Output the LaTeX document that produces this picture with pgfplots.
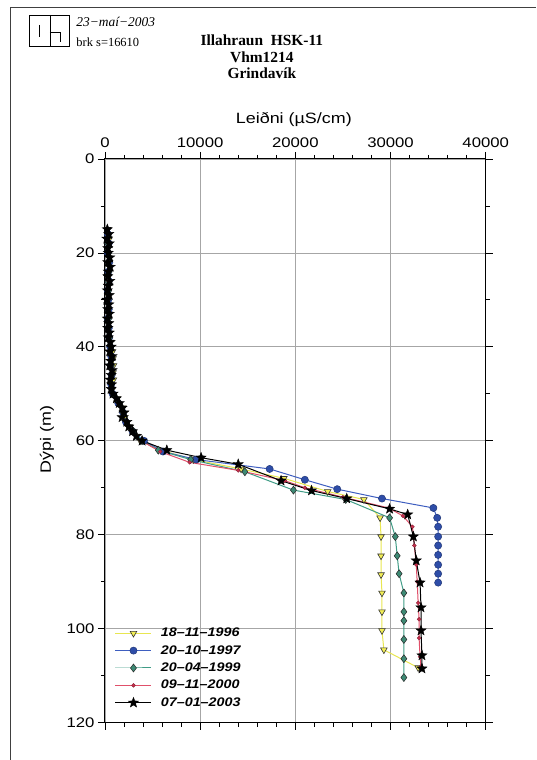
\documentclass[border=0pt]{standalone}
\usepackage{fontspec}
\setmainfont{Liberation Serif}
\setsansfont{Liberation Sans}
\newfontfamily\sfx{Liberation Sans}[FakeStretch=1.2]
\newfontfamily\sfl{Liberation Sans}[FakeStretch=1.15]
\usepackage{pgfplots}
\pgfplotsset{compat=1.18}
\usepackage{pgfplotstable}
\usetikzlibrary{plotmarks}

\definecolor{cyel}{HTML}{F2EE55}
\definecolor{cyelline}{HTML}{E8E650}
\definecolor{cblue}{HTML}{2E4DA8}
\definecolor{cblueline}{HTML}{3E5EC0}
\definecolor{cteal}{HTML}{3D8A74}
\definecolor{ctealline}{HTML}{3F9C86}
\definecolor{cred}{HTML}{C8304E}
\definecolor{credline}{HTML}{E0506A}

\newdimen\starin
\pgfdeclareplotmark{fstar}{%
  \starin=0.42\pgfplotmarksize
  \pgfpathmoveto{\pgfqpointpolar{90}{\pgfplotmarksize}}%
  \pgfpathlineto{\pgfqpointpolar{126}{\starin}}%
  \pgfpathlineto{\pgfqpointpolar{162}{\pgfplotmarksize}}%
  \pgfpathlineto{\pgfqpointpolar{198}{\starin}}%
  \pgfpathlineto{\pgfqpointpolar{234}{\pgfplotmarksize}}%
  \pgfpathlineto{\pgfqpointpolar{270}{\starin}}%
  \pgfpathlineto{\pgfqpointpolar{306}{\pgfplotmarksize}}%
  \pgfpathlineto{\pgfqpointpolar{342}{\starin}}%
  \pgfpathlineto{\pgfqpointpolar{18}{\pgfplotmarksize}}%
  \pgfpathlineto{\pgfqpointpolar{54}{\starin}}%
  \pgfpathclose
  \pgfusepathqfillstroke
}

% 18-11-1996
\pgfplotstableread{
d c
15 300
17 450
19 350
21 400
23 500
25 350
27 400
29 300
31 400
33 450
35 350
37 500
39 600
41 800
42.5 850
44 900
45.5 850
47 900
49 800
51 1300
53 1900
55 2100
57 2600
59 3300
60 3700
62 5900
64 9300
66 14300
68 18800
70.8 23400
72.5 27200
76.4 28900
80.4 29000
84.5 29000
88.5 29000
92.4 29100
96.4 29100
100.4 29100
104.5 29300
108.3 32900
}\tyel

% 20-10-1997
\pgfplotstableread{
d c
16 300
18 400
20 300
22 450
24 350
26 400
28 300
30 350
32 400
34 300
36 400
38 450
40 550
42 650
44 600
46 700
48 650
50 800
52 1400
54 1900
56 2200
58 2900
60 4100
62.3 6100
64 9600
66 17300
68.3 21000
70.3 24400
72.3 29100
74.3 34500
76.4 34900
78.3 35000
80.4 35000
82.3 35000
84.3 35000
86.4 35000
88.3 35000
90.2 35000
}\tblue

% 20-04-1999
\pgfplotstableread{
d c
16 350
18 300
20 400
22 350
24 450
26 300
28 400
30 300
32 350
34 400
36 350
38 500
40 600
42 700
44 650
46 750
48 700
50 850
52 1500
54 1900
56 2300
58 3000
60 3900
62 5600
64 9000
66.6 14700
70.5 19800
72.5 25300
76.4 29900
80.4 30500
84.5 30700
88.3 30900
92.4 31400
96.4 31400
98.3 31400
102.3 31400
106.4 31400
110.4 31400
}\tteal

% 09-11-2000
\pgfplotstableread{
d c
16 300
18 350
20 400
22 300
24 400
26 350
28 300
30 300
32 400
34 350
36 300
38 450
40 600
42 650
44 600
46 700
48 700
50 800
52 1400
54 1900
56 2200
58 2800
60 3800
62.3 5800
64.6 8900
66.3 14000
68.5 18900
70 21000
72 25000
74.3 29800
76 31300
78.3 32300
82.3 32500
86.4 32700
90 32800
94.5 32900
98 33000
102 33000
106 33100
108 33200
}\tred

% 07-01-2003
\pgfplotstableread{
d c
15 250
16 400
17 200
18 450
19 300
20 350
21 500
22 300
23 550
24 350
25 300
26 500
27 350
28 250
29 450
30 200
31 400
32 300
33 450
34 250
35 400
36 300
37 450
38 350
39 550
40 650
41 500
42 750
43 600
44 500
45 750
46 650
47 550
48 700
49 650
50 850
51 1200
52 1500
53 1800
54 2000
55 1800
56 2300
57 2500
58 2900
59 3300
60 3900
62 6500
63.6 10100
65 14000
68.5 18500
70.6 21700
72.3 25400
74.5 29900
75.7 31800
80.4 32400
85.5 32700
90.2 33100
95.5 33200
100.4 33200
105.7 33300
108.5 33300
}\tstar

\begin{document}
\begin{tikzpicture}
\path (0bp,0bp) rectangle (536bp,760bp);
% page frame
\draw[line width=0.8bp, black!75] (10bp,0bp) -- (10bp,753bp) -- (536bp,753bp);
% logo
\begin{scope}[line width=0.7bp]
\draw (29bp,714bp) rectangle (69bp,745bp);
\draw (39bp,735bp) -- (39bp,723bp);
\draw (50bp,745bp) -- (50bp,714bp);
\draw (50bp,728bp) -- (60bp,728bp) -- (60bp,718bp);
\end{scope}
\node[anchor=west, font=\itshape\fontsize{13.5}{15}\selectfont] at (73bp,738bp) {23−maí−2003};
\node[anchor=west, font=\fontsize{12.5}{15}\selectfont] at (73bp,718bp) {brk s=16610};
\node[font=\bfseries\fontsize{15.5}{17}\selectfont] at (262bp,720bp) {Illahraun\ \ HSK-11};
\node[font=\bfseries\fontsize{15.5}{17}\selectfont] at (262bp,703bp) {Vhm1214};
\node[font=\bfseries\fontsize{15.5}{17}\selectfont] at (262bp,687bp) {Grindavík};

\begin{axis}[
  at={(105bp,37bp)}, anchor=south west,
  scale only axis, width=381bp, height=564bp,
  xmin=0, xmax=40000, ymin=0, ymax=120, y dir=reverse,
  xtick={0,10000,20000,30000,40000}, minor x tick num=4,
  ytick={0,20,40,60,80,100,120}, minor y tick num=1,
  xticklabel pos=upper,
  grid=major, major grid style={black!35, line width=0.7bp},
  tick align=outside, major tick length=7bp, minor tick length=4bp,
  tick style={black, line width=0.7bp},
  axis line style={line width=0.9bp},
  scaled x ticks=false,
  /pgf/number format/set thousands separator={},
  /pgf/number format/assume math mode=true,
  ticklabel style={font=\sfx\fontsize{14}{16}\selectfont},
  xticklabel style={yshift=1bp},
  legend cell align=left,
  legend style={at={(0.018,0.175)}, anchor=north west, draw=none, fill=none,
    font=\sfl\bfseries\itshape\fontsize{12.5}{14}\selectfont,
    row sep=3.2bp,
    /tikz/every odd column/.append style={column sep=7bp}},
  legend image code/.code={%
    \draw[mark repeat=2,mark phase=2,#1] plot coordinates {(0bp,0bp) (18bp,0bp) (36bp,0bp)};},
]
\addplot[cyelline, line width=1bp, mark=triangle*, mark size=3.8bp,
  mark options={rotate=180, fill=cyel, draw=black!80, line width=0.6bp}]
  table[x=c, y=d] {\tyel};
\addlegendentry{18–11–1996}
\addplot[cblueline, line width=1bp, mark=*, mark size=3.6bp,
  mark options={fill=cblue, draw=cblue!70!black, line width=0.5bp}]
  table[x=c, y=d] {\tblue};
\addlegendentry{20–10–1997}
\addplot[ctealline, line width=1bp, mark=diamond*, mark size=4bp,
  mark options={fill=cteal, draw=black!85, line width=0.5bp}]
  table[x=c, y=d] {\tteal};
\addlegendentry{20–04–1999}
\addplot[credline, line width=1bp, mark=*, mark size=1.9bp,
  mark options={fill=cred, draw=cred!70!black, line width=0.4bp}]
  table[x=c, y=d] {\tred};
\addlegendentry{09–11–2000}
\addplot[black, line width=1bp, mark=fstar, mark size=5.3bp,
  mark options={fill=black, draw=black, line width=0.4bp}]
  table[x=c, y=d] {\tstar};
\addlegendentry{07–01–2003}
\end{axis}
\node[font=\sfx\fontsize{15}{17}\selectfont] at (294bp,640bp) {Leiðni (µS/cm)};
\node[font=\sfx\fontsize{15}{17}\selectfont, rotate=90] at (47bp,320bp) {Dýpi (m)};
\end{tikzpicture}
\end{document}
